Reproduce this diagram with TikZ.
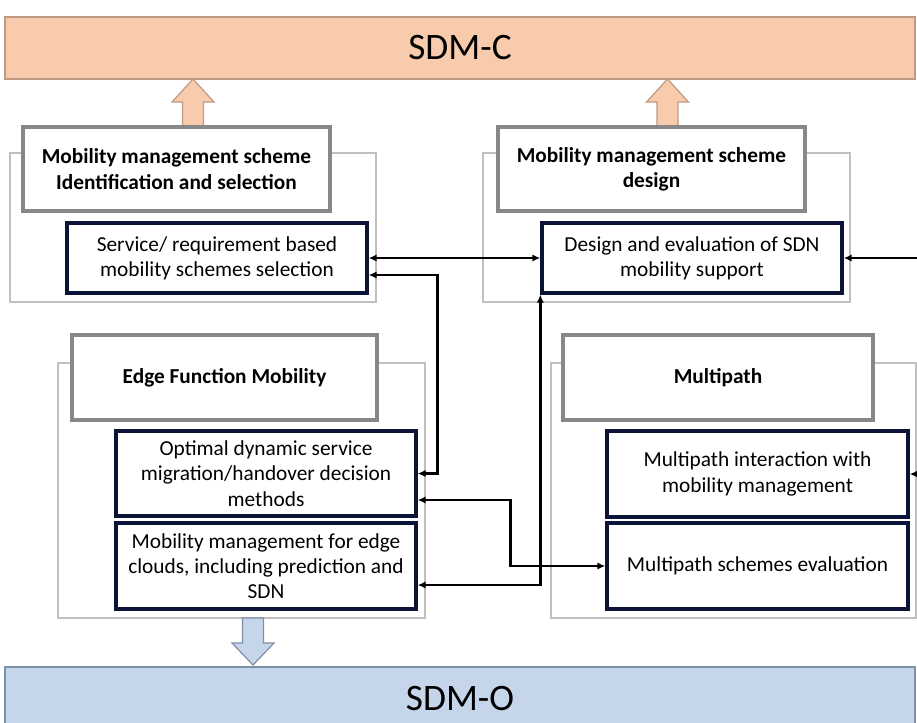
\documentclass[tikz,border=0pt]{standalone}
\usepackage{fontspec}
\setmainfont{Carlito}
\usetikzlibrary{arrows.meta,calc}
\definecolor{SDPeach}{HTML}{F8CBAD}
\definecolor{SDPeachLine}{HTML}{C09A82}
\definecolor{SDBlue}{HTML}{C5D5EA}
\definecolor{SDBlueLine}{HTML}{7F8FA6}
\definecolor{SDHead}{HTML}{878787}
\definecolor{SDFrame}{HTML}{BFBFBF}
\definecolor{SDNavy}{HTML}{0B1436}
\tikzset{
  sz/.style 2 args={minimum width=#1*0.75pt,minimum height=#2*0.75pt},
  txt/.style={font=\fontsize{16}{19}\selectfont,align=center,inner sep=0pt},
  layer/.style={draw=#1,line width=1.1pt,font=\fontsize{28}{33}\selectfont,inner sep=0pt},
  headbox/.style={txt,draw=SDHead,fill=white,line width=2.3pt,font=\fontsize{16}{19}\selectfont\bfseries},
  itembox/.style={txt,draw=SDNavy,fill=white,line width=2.5pt},
  frame/.style={draw=SDFrame,line width=1.1pt},
  link/.style={line width=2.1pt},
  blockup/.style={fill=SDPeach,draw=SDPeachLine,line width=0.9pt},
  blockdown/.style={fill=SDBlue,draw=SDBlueLine,line width=0.9pt}
}

\begin{document}
\begin{tikzpicture}[x=0.75pt,y=-0.75pt,>={Latex[length=6pt,width=5.5pt]}]
\clip (0,0) rectangle (917,722);
\fill[white] (0,0) rectangle (917,722);
% control and orchestration layers
\node[layer=SDPeachLine,fill=SDPeach,sz={910}{62}] (sdmc) at (460,48) {SDM-C};
\node[layer=SDBlueLine,fill=SDBlue,sz={910}{62},text depth=0pt] (sdmo) at (460,698) {SDM-O};
% group frames
\draw[frame] (10,153) rectangle (376,302);
\draw[frame] (483,153) rectangle (850,302);
\draw[frame] (58,363) rectangle (425,618);
\draw[frame] (551,363) rectangle (916,618);
% block arrows
\draw[blockup] (182.5,127) -- (182.5,102) -- (172,102) -- (193,79) -- (214,102) -- (203.5,102) -- (203.5,127);
\draw[blockup] (657,127) -- (657,102) -- (646.5,102) -- (667.5,79) -- (688.5,102) -- (678,102) -- (678,127);
\draw[blockdown] (242.5,618) -- (242.5,643) -- (232,643) -- (253,665) -- (274,643) -- (263.5,643) -- (263.5,618) -- cycle;
% headers
\node[headbox,sz={307}{84}] (hdrA) at (176.5,169) {Mobility management scheme\\Identification and selection};
\node[headbox,sz={307}{84}] (hdrB) at (651.5,169) {Mobility management scheme\\design};
\node[headbox,sz={305}{85}] (hdrC) at (224.5,377.5) {Edge Function Mobility};
\node[headbox,sz={310}{85}] (hdrD) at (718,377.5) {Multipath};
% items
\node[itembox,sz={300}{70}] (selA) at (217,258) {Service/ requirement based\\mobility schemes selection};
\node[itembox,sz={300}{70}] (desB) at (692,258) {Design and evaluation of SDN\\mobility support};
\node[itembox,sz={300}{85}] (optC) at (266,473.5) {Optimal dynamic service\\migration/handover decision\\methods};
\node[itembox,sz={300}{86}] (edgC) at (266,566) {Mobility management for edge\\clouds, including prediction and\\SDN};
\node[itembox,sz={301}{86}] (intD) at (757.5,474) {Multipath interaction with\\mobility management};
\node[itembox,sz={301}{86}] (evaD) at (757.5,566) {Multipath schemes evaluation};
% links
\coordinate (rinA) at ($(desB.east)+(90,0)$);
\coordinate (rinB) at ($(intD.east)+(30,0)$);
\draw[link,<->] (selA.east) -- (desB.west);
\draw[link,<->] ($(selA.east)+(0,17)$) -| ($(optC.east)+(20,0)$) -- (optC.east);
\draw[link,<->] ($(optC.east)+(0,26.5)$) -| ($(evaD.west)+(-95,0)$) -- (evaD.west);
\draw[link,<->] ($(edgC.east)+(0,19)$) -| (desB.south west);
\draw[link,->] (rinA) -- (desB.east);
\draw[link,->] (rinB) -- (intD.east);
\end{tikzpicture}
\end{document}
